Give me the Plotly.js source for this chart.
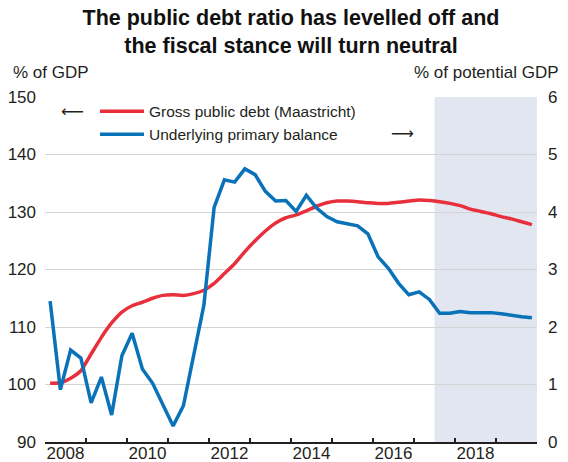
<!DOCTYPE html>
<html>
<head>
<meta charset="utf-8">
<script src="https://cdn.plot.ly/plotly-3.0.1.min.js"></script>
<style>html,body{margin:0;padding:0;background:#fff;}#chart{width:568px;height:462px;}</style>
</head>
<body>
<div id="chart"></div>
<script>
// Quarterly periods 2008Q1 .. 2019Q4 (plotted at mid-quarter)
const years = [2008, 2009, 2010, 2011, 2012, 2013, 2014, 2015, 2016, 2017, 2018, 2019];
const quarters = [1, 2, 3, 4];

// Gross public debt (Maastricht), % of GDP (left axis)
const grossDebt = [
  100.2, 100.3, 101.1, 102.4,
  105.3, 108.2, 110.7, 112.6,
  113.7, 114.3, 115.0, 115.5,
  115.6, 115.5, 115.8, 116.4,
  117.6, 119.3, 121.0, 123.1,
  125.0, 126.7, 128.1, 129.0,
  129.5, 130.2, 131.0, 131.6,
  131.9, 131.9, 131.8, 131.6,
  131.5, 131.5, 131.7, 131.9,
  132.1, 132.0, 131.8, 131.5,
  131.1, 130.5, 130.1, 129.7,
  129.2, 128.8, 128.3, 127.8
];

// Underlying primary balance, % of potential GDP (right axis)
const primaryBalance = [
  2.45, 0.91, 1.60, 1.46,
  0.68, 1.13, 0.47, 1.50,
  1.89, 1.27, 1.02, 0.65,
  0.28, 0.63, 1.54, 2.38,
  4.08, 4.56, 4.52, 4.75,
  4.65, 4.36, 4.19, 4.20,
  4.01, 4.29, 4.07, 3.92,
  3.83, 3.80, 3.76, 3.62,
  3.22, 3.02, 2.76, 2.56,
  2.61, 2.48, 2.24, 2.24,
  2.27, 2.25, 2.25, 2.25,
  2.23, 2.20, 2.18, 2.16
];

const yearTicks = [2008, 2009, 2010, 2011, 2012, 2013, 2014, 2015, 2016, 2017, 2018, 2019, 2020];
const labelYears = [2008, 2010, 2012, 2014, 2016, 2018];
const projectionStart = 2017.5;
const xRange = [2008, 2020];

const title = "The public debt ratio has levelled off and<br>the fiscal stance will turn neutral";
const debtName = "Gross public debt (Maastricht)";
const balanceName = "Underlying primary balance";
const leftUnit = "% of GDP";
const rightUnit = "% of potential GDP";

const xq = [];
years.forEach(y => quarters.forEach(q => xq.push(y + (q - 0.5) / 4)));

const FONT = '"Liberation Sans", Arial, sans-serif';
const TXT = '#231f20';

const traces = [
  {
    x: xq, y: grossDebt, name: debtName, type: 'scatter', mode: 'lines',
    line: {color: '#e8303c', width: 3.5, shape: 'spline', smoothing: 0.6},
    xaxis: 'x', yaxis: 'y'
  },
  {
    x: xq, y: primaryBalance, name: balanceName, type: 'scatter', mode: 'lines',
    line: {color: '#0a72b8', width: 3.5},
    xaxis: 'x', yaxis: 'y2'
  }
];

const layout = {
  width: 568, height: 462,
  margin: {l: 45, r: 31, t: 97, b: 20, pad: 0},
  paper_bgcolor: '#fff', plot_bgcolor: 'rgba(0,0,0,0)',
  font: {family: FONT, color: TXT, size: 17},
  title: {
    text: title, font: {family: FONT, size: 21.5, color: '#111', weight: 'bold'},
    x: 0.5, xanchor: 'center', xref: 'paper', yref: 'container', y: 0.945, yanchor: 'top'
  },
  showlegend: true,
  legend: {
    x: 0.1016, y: 1.007, xanchor: 'left', yanchor: 'top',
    bgcolor: 'rgba(0,0,0,0)', borderwidth: 0,
    font: {family: FONT, size: 15.5, color: TXT},
    itemwidth: 44, tracegroupgap: 0
  },
  xaxis: {
    range: xRange, tickmode: 'array', tickvals: yearTicks, showticklabels: false,
    ticks: 'inside', ticklen: 4, tickwidth: 1.2, tickcolor: TXT,
    showline: true, linecolor: TXT, linewidth: 1.5, showgrid: false, zeroline: false,
    fixedrange: true
  },
  xaxis2: {
    overlaying: 'x', anchor: 'free', position: 0.004, side: 'bottom', range: xRange,
    tickmode: 'array', tickvals: labelYears.map(y => y + 0.5), ticktext: labelYears.map(String),
    ticks: '', showline: false, showgrid: false, zeroline: false,
    tickfont: {family: FONT, size: 17, color: TXT}, ticklabelstandoff: 0
  },
  yaxis: {
    range: [90, 150], dtick: 10, tick0: 90, showgrid: true, gridcolor: '#d4d4d4', gridwidth: 1,
    zeroline: false, showline: false, ticks: '', ticklabelstandoff: 8,
    tickfont: {family: FONT, size: 17, color: TXT}
  },
  yaxis2: {
    overlaying: 'y', side: 'right', range: [0, 6], dtick: 1, tick0: 0,
    showgrid: false, zeroline: false, showline: false, ticks: '', ticklabelstandoff: 10,
    tickfont: {family: FONT, size: 17, color: TXT}
  },
  shapes: [
    {type: 'rect', xref: 'x', yref: 'paper', x0: projectionStart, x1: xRange[1], y0: 0, y1: 1,
     fillcolor: '#e1e6f0', line: {width: 0}, layer: 'below'}
  ],
  annotations: [
    {text: leftUnit, xref: 'paper', yref: 'paper', x: -0.069, y: 1.0696, xanchor: 'left', yanchor: 'middle',
     showarrow: false, font: {family: FONT, size: 17, color: TXT}},
    {text: rightUnit, xref: 'paper', yref: 'paper', x: 1.0488, y: 1.0696, xanchor: 'right', yanchor: 'middle',
     showarrow: false, font: {family: FONT, size: 17, color: TXT}},
    {text: '⟵', xref: 'x', yref: 'paper', x: 2008.67, y: 0.9594, xanchor: 'center', yanchor: 'middle',
     showarrow: false, font: {family: '"DejaVu Sans", sans-serif', size: 16, color: TXT}},
    {text: '⟶', xref: 'x', yref: 'paper', x: 2016.73, y: 0.8955, xanchor: 'center', yanchor: 'middle',
     showarrow: false, font: {family: '"DejaVu Sans", sans-serif', size: 16, color: TXT}}
  ]
};

// invisible point so that the label axis (xaxis2) is drawn
traces.push({x: [xRange[0]], y: [90], xaxis: 'x2', yaxis: 'y', type: 'scatter', mode: 'markers',
  marker: {opacity: 0}, showlegend: false, hoverinfo: 'skip'});

Plotly.newPlot('chart', traces, layout, {displayModeBar: false, staticPlot: true});
</script>
</body>
</html>
